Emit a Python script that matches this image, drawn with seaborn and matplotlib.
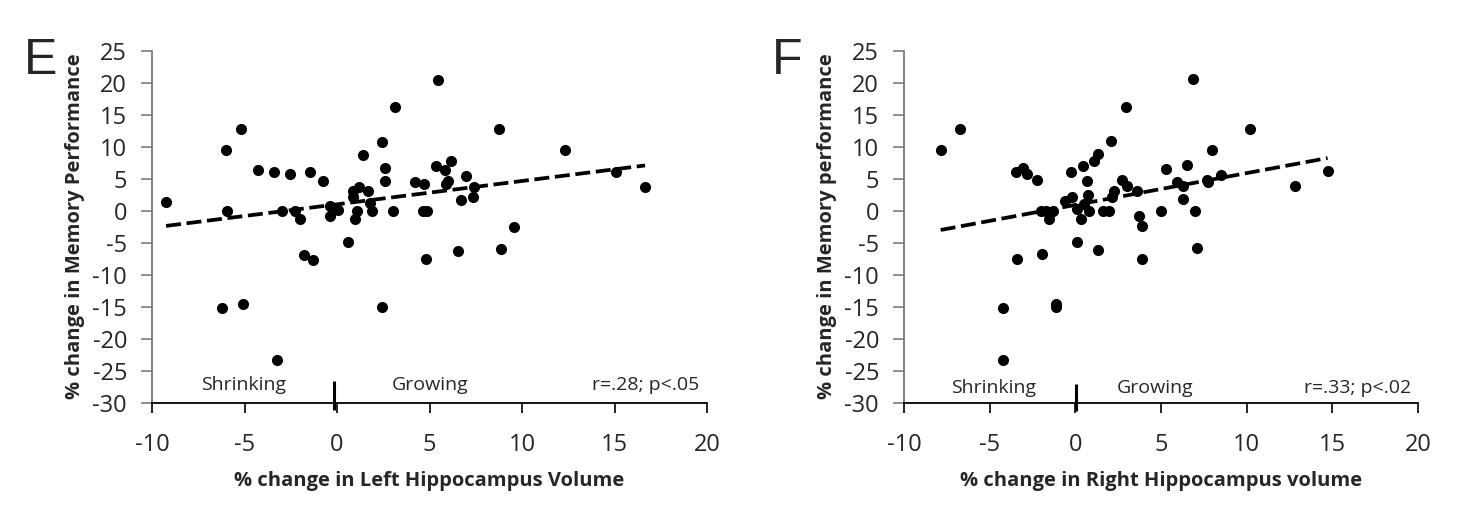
import matplotlib
matplotlib.use("Agg")
import matplotlib.pyplot as plt
import numpy as np
import pandas as pd
import seaborn as sns

# Panel E: % change in left hippocampus volume vs % change in memory performance
left_x = [-9.24, -6.0, -5.2, -5.96, -4.25, -3.4, -2.52, -1.44, -0.77, -2.99,
          -2.27, -2.0, -0.38, 0.07, -0.38, 0.88, 1.2, 0.88, 1.7, 1.43,
          1.1, 0.99, 1.8, 1.87, 2.45, 2.6, 2.6, 3.15, 3.05, 4.2,
          5.44, 8.73, 12.35, 15.06, 16.65, 5.35, 6.15, 5.84, 6.0, 5.9,
          6.97, 7.4, 7.33, 6.7, 4.7, 4.67, 4.85, 9.57, 0.61, -1.78,
          -1.28, -6.22, -5.06, 2.45, -3.26, 4.8, 6.56, 8.86]
left_y = [1.4, 9.5, 12.7, 0.0, 6.4, 6.1, 5.7, 6.1, 4.7, 0.0,
          0.0, -1.3, 0.7, 0.1, -0.9, 3.0, 3.75, 2.2, 3.0, 8.7,
          0.0, -1.3, 1.15, 0.0, 10.7, 6.7, 4.6, 16.15, 0.0, 4.4,
          20.4, 12.7, 9.4, 6.1, 3.75, 7.0, 7.8, 6.4, 4.7, 4.2,
          5.4, 3.75, 2.2, 1.7, 4.2, 0.0, 0.0, -2.5, -4.9, -6.9,
          -7.7, -15.3, -14.6, -15.0, -23.3, -7.6, -6.3, -6.0]

# Panel F: % change in right hippocampus volume vs % change in memory performance
right_x = [-7.86, -6.73, -3.47, -3.08, -2.8, -2.26, -2.03, -1.72, -1.3, -1.56,
           -0.6, -0.2, -0.25, 0.43, 0.7, 0.76, 0.11, 0.5, 0.8, 0.31,
           1.1, 1.3, 2.1, 1.6, 1.96, 2.12, 2.27, 2.93, 2.7, 3.0,
           3.58, 3.73, 3.87, 6.88, 10.19, 8.0, 5.29, 6.53, 5.95, 6.3,
           7.66, 7.75, 8.49, 12.83, 14.72, 6.3, 4.98, 6.96, -3.39, -1.95,
           0.08, 1.34, 3.87, -4.2, -1.15, -1.15, -4.2, 7.13]
right_y = [9.5, 12.8, 6.1, 6.6, 5.7, 4.8, 0.0, 0.0, 0.0, -1.3,
           1.5, 2.2, 6.1, 6.9, 4.6, 2.4, 0.3, 1.1, 0.0, -1.3,
           7.8, 8.8, 10.9, 0.0, 0.0, 2.2, 3.1, 16.2, 4.8, 3.85,
           3.1, -0.8, -2.4, 20.5, 12.8, 9.5, 6.5, 7.1, 4.5, 3.85,
           4.8, 4.4, 5.5, 3.85, 6.2, 1.75, 0.0, 0.0, -7.6, -6.8,
           -4.9, -6.2, -7.6, -15.2, -14.6, -15.0, -23.3, -5.9]

x_ticks = [-10, -5, 0, 5, 10, 15, 20]
y_ticks = [-30, -25, -20, -15, -10, -5, 0, 5, 10, 15, 20, 25]

panels = [
    dict(letter="E", x=left_x, y=left_y,
         xlabel="% change in Left Hippocampus Volume",
         ylabel="% change in Memory Performance",
         stat="r=.28; p<.05", shrink=(-5.05, -27.3), grow=(5.05, -27.3),
         bar_x=-0.15, bar_y=(-26.6, -31.2)),
    dict(letter="F", x=right_x, y=right_y,
         xlabel="% change in Right Hippocampus volume",
         ylabel="% change in Memory performance",
         stat="r=.33; p<.02", shrink=(-4.8, -27.7), grow=(4.65, -27.7),
         bar_x=0.02, bar_y=(-27.1, -31.3)),
]

sns.set_style("white")
plt.rcParams["font.family"] = ["Open Sans", "DejaVu Sans"]
plt.rcParams["axes.unicode_minus"] = False

W, H = 1468, 523
fig = plt.figure(figsize=(W / 100, H / 100), dpi=100)
top_px, bot_px = 50.7, 402.5
axes_px = [(152, 707), (904, 1418)]
letter_px = [(24, 74), (772, 74)]

for p, (l, r), (lx, ly) in zip(panels, axes_px, letter_px):
    ax = fig.add_axes([l / W, 1 - bot_px / H, (r - l) / W, (bot_px - top_px) / H])
    df = pd.DataFrame({"x": p["x"], "y": p["y"]})
    sns.regplot(data=df, x="x", y="y", ax=ax, ci=None, color="black",
                scatter_kws=dict(s=64, linewidths=0, alpha=1),
                line_kws=dict(lw=2.7, ls=(0, (4.0, 1.5))))
    ax.set_xlim(-10, 20)
    ax.set_ylim(-30, 25)
    ax.set_xticks(x_ticks)
    ax.set_yticks(y_ticks)
    for s in ["top", "right"]:
        ax.spines[s].set_visible(False)
    ax.spines["left"].set_color("#7a7a7a")
    ax.spines["left"].set_linewidth(1.3)
    ax.spines["bottom"].set_color("black")
    ax.spines["bottom"].set_linewidth(1.3)
    ax.tick_params(axis="y", direction="out", length=8, width=1.2,
                   color="#7a7a7a", pad=10, labelsize=17, left=True)
    ax.tick_params(axis="x", direction="out", length=7, width=1.2,
                   color="black", pad=15, labelsize=17, bottom=True)
    ax.set_xlabel(p["xlabel"], fontsize=14.5, fontweight="bold", labelpad=10)
    ax.set_ylabel(p["ylabel"], fontsize=14.5, fontweight="bold", labelpad=5)
    ax.text(p["shrink"][0], p["shrink"][1], "Shrinking", ha="center", va="center", fontsize=14)
    ax.text(p["grow"][0], p["grow"][1], "Growing", ha="center", va="center", fontsize=14)
    ax.text(19.6, p["shrink"][1], p["stat"], ha="right", va="center", fontsize=14)
    ax.plot([p["bar_x"], p["bar_x"]], list(p["bar_y"]), color="black", lw=2.2,
            clip_on=False, solid_capstyle="butt")
    ax.grid(False)
    fig.text(lx / W, 1 - ly / H, p["letter"], fontsize=36,
             family=["Liberation Sans", "DejaVu Sans"], ha="left", va="baseline")

fig.savefig("out.png", dpi=100, facecolor="white")
